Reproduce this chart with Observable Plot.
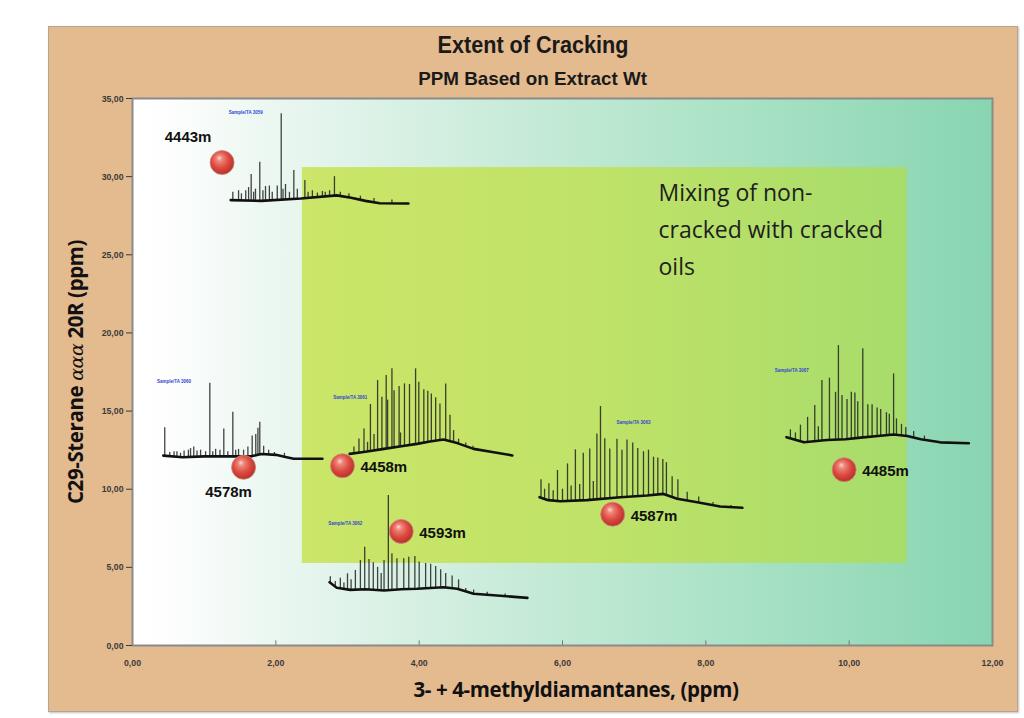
<!DOCTYPE html>
<html><head><meta charset="utf-8">
<script src="https://cdn.jsdelivr.net/npm/d3@7"></script>
<script src="https://cdn.jsdelivr.net/npm/@observablehq/plot@0.6"></script>
<style>
body{margin:0;background:#fff;width:1024px;height:718px;overflow:hidden;position:relative}
#panel{position:absolute;left:48px;top:26px;width:970px;height:686px;background:#e4ba8f;border:1px solid #b3a596;box-sizing:border-box;box-shadow:1px 1px 2px rgba(0,0,0,.25)}
.hd{position:absolute;left:0;width:100%;text-align:center;color:#1a1a1a;font-family:"Liberation Sans",Arial,sans-serif;font-weight:bold}
.hd span{display:inline-block}
#title{top:5px;font-size:24px;line-height:26px}
#title span{transform:scaleX(0.9)}
#subtitle{top:41px;font-size:19px;line-height:22px}
#subtitle span{transform:scaleX(0.99)}
#chart{position:absolute;left:-1px;top:63px}
#xtitle{position:absolute;left:527px;top:650px;transform:translateX(-50%);white-space:nowrap;font:bold 20.5px/24px "Open Sans",sans-serif;color:#111;letter-spacing:-0.4px}
#ytitle{position:absolute;left:26px;top:345px;width:0;height:0}
#ytitle span{position:absolute;left:0;top:0;transform:translate(-50%,-50%) rotate(-90deg);white-space:nowrap;font:bold 20.5px/24px "Open Sans",sans-serif;color:#111;letter-spacing:-0.4px}
#ytitle i{font-family:"DejaVu Serif","Liberation Serif",serif;font-weight:normal;font-style:italic;font-size:19px}
</style></head>
<body>
<div id="panel">
  <div id="title" class="hd"><span>Extent of Cracking</span></div>
  <div id="subtitle" class="hd"><span>PPM Based on Extract Wt</span></div>
  <div id="chart"></div>
  <div id="xtitle">3- + 4-methyldiamantanes, (ppm)</div>
  <div id="ytitle"><span>C29-Sterane <i>ααα</i> 20R (ppm)</span></div>
</div>
<script>
// ---- scatter data ----
const depths  = ["4443m","4578m","4458m","4593m","4587m","4485m"];
const mdia    = [1.25, 1.55, 2.93, 3.75, 6.70, 9.93];
const sterane = [30.9, 11.4, 11.5, 7.3, 8.4, 11.25];

const xTicks = [0,2,4,6,8,10,12];
const yTicks = [0,5,10,15,20,25,30,35];

// mixing zone (ppm units)
const zoneX = [2.37, 10.81];
const zoneY = [5.25, 30.58];
const noteText = "Mixing of non-\ncracked with cracked\noils";
const notePos = [7.34, 26.83];

// ---- chromatogram traces: baseline knots [x, y] and peaks [x, top] ----
const base4443 = [[1.37,28.5],[1.8,28.45],[2.35,28.6],[2.85,28.8],[3.05,28.65],[3.25,28.45],[3.45,28.3],[3.85,28.28]];
const peaks4443 = [[1.40,29.0],[1.48,29.1],[1.52,28.9],[1.58,29.1],[1.62,29.3],[1.656,30.13],[1.69,29.0],[1.716,29.2],[1.776,30.92],[1.82,29.1],[1.856,29.37],[1.91,29.4],[1.95,29.0],[2.02,29.4],[2.075,34.02],[2.10,29.2],[2.135,29.5],[2.19,29.0],[2.251,30.39],[2.30,29.2],[2.405,29.75],[2.45,29.0],[2.51,29.1],[2.58,28.95],[2.65,29.05],[2.69,29.0],[2.75,29.1],[2.818,30.0],[2.90,29.0],[3.02,28.9],[3.18,28.75],[3.37,28.6],[3.62,28.5]];
const tag4443 = [1.58, 34.1];

const base4578 = [[0.43,12.15],[0.7,12.05],[1.0,12.1],[1.3,12.1],[1.65,12.1],[1.8,12.25],[2.0,12.2],[2.15,12.05],[2.25,11.95],[2.65,11.95]];
const peaks4578 = [[0.45,13.93],[0.52,12.35],[0.58,12.4],[0.62,12.4],[0.67,12.3],[0.72,12.45],[0.78,12.5],[0.81,12.6],[0.855,12.7],[0.90,12.45],[0.95,12.5],[1.02,12.4],[1.079,16.78],[1.12,12.4],[1.16,12.55],[1.22,12.5],[1.274,13.86],[1.33,12.4],[1.40,14.93],[1.44,12.5],[1.48,12.55],[1.55,12.5],[1.61,12.7],[1.67,13.4],[1.72,13.5],[1.75,13.9],[1.776,14.29],[1.83,12.75],[1.90,12.5],[1.98,12.35],[2.12,12.3]];
const tag4578 = [0.58, 16.9];

const base4458 = [[3.03,12.26],[3.25,12.4],[3.51,12.58],[3.75,12.75],[3.97,12.9],[4.15,13.05],[4.34,13.18],[4.53,12.95],[4.76,12.58],[5.04,12.37],[5.30,12.16]];
const peaks4458 = [[3.09,12.7],[3.16,13.22],[3.23,13.86],[3.28,13.0],[3.32,15.42],[3.37,13.5],[3.42,16.95],[3.48,15.89],[3.54,17.27],[3.56,15.7],[3.62,17.7],[3.65,16.3],[3.72,16.57],[3.74,13.6],[3.795,16.74],[3.865,16.7],[3.95,17.7],[3.995,16.85],[4.065,16.36],[4.12,16.27],[4.17,16.1],[4.23,15.85],[4.29,15.45],[4.37,16.74],[4.43,14.73],[4.48,13.75],[4.55,13.2],[4.65,12.95],[4.75,12.75]];
const tag4458 = [3.04, 15.89];

const base4593 = [[2.75,4.05],[2.85,3.7],[3.04,3.56],[3.25,3.6],[3.51,3.52],[3.75,3.6],[3.97,3.63],[4.34,3.73],[4.53,3.63],[4.76,3.31],[5.13,3.18],[5.51,3.05]];
const peaks4593 = [[2.76,4.4],[2.83,4.1],[2.9,4.3],[2.95,4.0],[3.0,4.59],[3.05,4.2],[3.11,4.8],[3.18,5.44],[3.24,6.29],[3.30,5.5],[3.36,5.3],[3.42,5.0],[3.47,4.6],[3.51,5.44],[3.57,9.6],[3.62,5.87],[3.69,5.55],[3.785,5.55],[3.855,5.65],[3.94,5.7],[4.0,5.35],[4.09,5.25],[4.16,5.2],[4.23,5.05],[4.30,4.85],[4.37,4.6],[4.46,4.45],[4.55,4.2],[4.65,3.65],[4.76,3.55],[4.95,3.4],[5.2,3.3]];
const tag4593 = [2.97, 7.78];

const base4587 = [[5.68,9.49],[5.8,9.3],[5.97,9.23],[6.34,9.3],[6.81,9.49],[7.18,9.6],[7.41,9.7],[7.60,9.39],[7.88,9.17],[8.2,8.89],[8.51,8.81]];
const peaks4587 = [[5.70,10.6],[5.75,10.0],[5.81,10.35],[5.87,9.9],[5.93,11.2],[6.0,10.0],[6.07,11.62],[6.12,10.2],[6.18,12.52],[6.24,10.3],[6.29,12.3],[6.38,12.58],[6.43,10.5],[6.48,13.54],[6.53,15.29],[6.59,13.23],[6.66,12.58],[6.76,13.2],[6.83,12.5],[6.90,13.15],[6.98,12.95],[7.05,12.6],[7.13,12.4],[7.20,12.5],[7.27,12.05],[7.33,12.0],[7.40,11.9],[7.45,11.7],[7.53,10.8],[7.61,10.6],[7.74,9.8],[7.9,9.5],[8.1,9.15],[8.35,8.95]];
const tag4587 = [6.99, 14.29];

const base4485 = [[9.125,13.33],[9.37,13.0],[9.69,13.15],[9.95,13.2],[10.16,13.3],[10.4,13.4],[10.62,13.5],[10.81,13.4],[11.0,13.2],[11.27,13.0],[11.67,12.94]];
const peaks4485 = [[9.18,13.8],[9.25,13.6],[9.32,14.1],[9.42,14.6],[9.52,15.36],[9.57,14.0],[9.62,16.95],[9.725,17.1],[9.81,16.2],[9.85,19.19],[9.90,16.0],[9.97,15.74],[10.03,16.2],[10.08,16.15],[10.12,15.6],[10.19,18.98],[10.26,15.4],[10.32,15.4],[10.39,15.2],[10.44,15.1],[10.52,14.9],[10.56,14.8],[10.62,17.38],[10.66,14.5],[10.73,14.15],[10.79,13.95],[10.9,13.7],[11.05,13.4]];
const tag4485 = [9.20, 17.6];

const tagText = ["Sample/TA 3059","Sample/TA 3060","Sample/TA 3061","Sample/TA 3062","Sample/TA 3063","Sample/TA 3067"];

// ---- build ----
const points = depths.map((d, i) => ({depth: d, x: mdia[i], y: sterane[i]}));
const traces = [
  {base: base4443, peaks: peaks4443, tag: tag4443},
  {base: base4578, peaks: peaks4578, tag: tag4578},
  {base: base4458, peaks: peaks4458, tag: tag4458},
  {base: base4593, peaks: peaks4593, tag: tag4593},
  {base: base4587, peaks: peaks4587, tag: tag4587},
  {base: base4485, peaks: peaks4485, tag: tag4485}
];
function baseAt(base, x) {
  if (x <= base[0][0]) return base[0][1];
  for (let i = 0; i < base.length - 1; i++) {
    const [x0, y0] = base[i], [x1, y1] = base[i + 1];
    if (x >= x0 && x <= x1) return y0 + (y1 - y0) * (x - x0) / (x1 - x0);
  }
  return base[base.length - 1][1];
}
const peakRows = [], baseRows = [], tagRows = [];
traces.forEach((t, k) => {
  t.peaks.forEach(([x, top]) => peakRows.push({x, y1: baseAt(t.base, x), y2: top}));
  t.base.forEach(([x, y]) => baseRows.push({x, y, k}));
  tagRows.push({x: t.tag[0], y: t.tag[1], text: tagText[k]});
});

const sans = '"Liberation Sans",Arial,sans-serif';
const fmt = d => d.toFixed(2).replace(".", ",");
const rightLabels = points.filter(p => !["4443m","4578m"].includes(p.depth));

const svg = Plot.plot({
  width: 968, height: 620,
  marginLeft: 84, marginRight: 24, marginTop: 8, marginBottom: 65,
  style: {background: "transparent", fontFamily: sans, color: "#3a3a3a"},
  x: {domain: [0, 12], ticks: xTicks, tickFormat: fmt, label: null, tickSize: 0, tickPadding: 14},
  y: {domain: [0, 35], ticks: yTicks, tickFormat: fmt, label: null, tickSize: 6, tickPadding: 3},
  marks: [
    Plot.frame({fill: "url(#bgGrad)"}),
    Plot.rect([{x1: zoneX[0], x2: zoneX[1], y1: zoneY[0], y2: zoneY[1]}], {x1: "x1", x2: "x2", y1: "y1", y2: "y2", fill: "url(#zoneGrad)"}),
    Plot.text([noteText], {x: notePos[0], y: notePos[1], text: d => d, textAnchor: "start", lineAnchor: "middle", lineHeight: 1.6, fontSize: 23, fontWeight: 500, fontFamily: '"Open Sans",sans-serif', fill: "#1e1e1e"}),
    Plot.ruleX(peakRows, {x: "x", y1: "y1", y2: "y2", stroke: "#222", strokeWidth: 1.3, strokeOpacity: 0.85}),
    Plot.line(baseRows, {x: "x", y: "y", z: "k", stroke: "#111", strokeWidth: 2.6}),
    Plot.text(tagRows, {x: "x", y: "y", text: "text", fontSize: 4.5, fontWeight: "bold", fill: "#2f46d0"}),
    Plot.ruleX(xTicks, {x: d => d, y1: 0, y2: 0.3, stroke: "#777"}),
    Plot.dot(points, {x: "x", y: "y", r: 12, fill: "url(#ball)", stroke: "#c98a80", strokeWidth: 0.8}),
    Plot.text(points.filter(p => p.depth === "4443m"), {x: "x", y: "y", text: "depth", dx: -34, dy: -25, fontSize: 15, fontWeight: "bold", fill: "#111"}),
    Plot.text(points.filter(p => p.depth === "4578m"), {x: "x", y: "y", text: "depth", dx: -15, dy: 25, fontSize: 15, fontWeight: "bold", fill: "#111"}),
    Plot.text(rightLabels, {x: "x", y: "y", text: "depth", dx: 18, dy: 1.5, textAnchor: "start", fontSize: 15, fontWeight: "bold", fill: "#111"}),
    Plot.frame({stroke: "#8a8a8a", strokeWidth: 2}),
    Plot.axisX({ticks: xTicks, tickFormat: fmt, tickSize: 0, tickPadding: 14, fontSize: 9.5, fontWeight: "bold"}),
    Plot.axisY({ticks: yTicks, tickFormat: fmt, tickSize: 6, tickPadding: 3, fontSize: 9.5, fontWeight: "bold"})
  ]
});

// slightly condensed tick labels (Arial Narrow–like)
d3.select(svg).selectAll("text").each(function () {
  const t = this.textContent;
  const tr = this.getAttribute("transform");
  if (/^\d+,\d\d$/.test(t)) {
    if (tr) this.setAttribute("transform", tr + " scale(0.92,1)");
    else {
      const x = +this.getAttribute("x") || 0, y = +this.getAttribute("y") || 0;
      this.setAttribute("transform", `translate(${x},${y}) scale(0.92,1)`);
      this.removeAttribute("x"); this.removeAttribute("y");
    }
  }
});

const defs = d3.select(svg).insert("defs", ":first-child");
const bg = defs.append("linearGradient").attr("id", "bgGrad").attr("x1", 0).attr("x2", 1).attr("y1", 0).attr("y2", 0);
[[0, "#ffffff"], [0.04, "#fdfefd"], [0.2, "#e6f5ee"], [0.45, "#c7ebd8"], [0.7, "#aae2c5"], [1, "#88d5b1"]]
  .forEach(([o, c]) => bg.append("stop").attr("offset", o).attr("stop-color", c));
const zg = defs.append("linearGradient").attr("id", "zoneGrad").attr("x1", 0).attr("x2", 1).attr("y1", 0).attr("y2", 0);
[[0, "#cbe668"], [0.5, "#bfe268"], [1, "#a7dc6b"]]
  .forEach(([o, c]) => zg.append("stop").attr("offset", o).attr("stop-color", c));
const bl = defs.append("radialGradient").attr("id", "ball").attr("cx", 0.45).attr("cy", 0.42).attr("r", 0.6).attr("fx", 0.38).attr("fy", 0.3);
[[0, "#fbd6cf"], [0.22, "#ee8478"], [0.6, "#dc4a40"], [1, "#b52f28"]]
  .forEach(([o, c]) => bl.append("stop").attr("offset", o).attr("stop-color", c));

document.getElementById("chart").appendChild(svg);
</script>
</body></html>
